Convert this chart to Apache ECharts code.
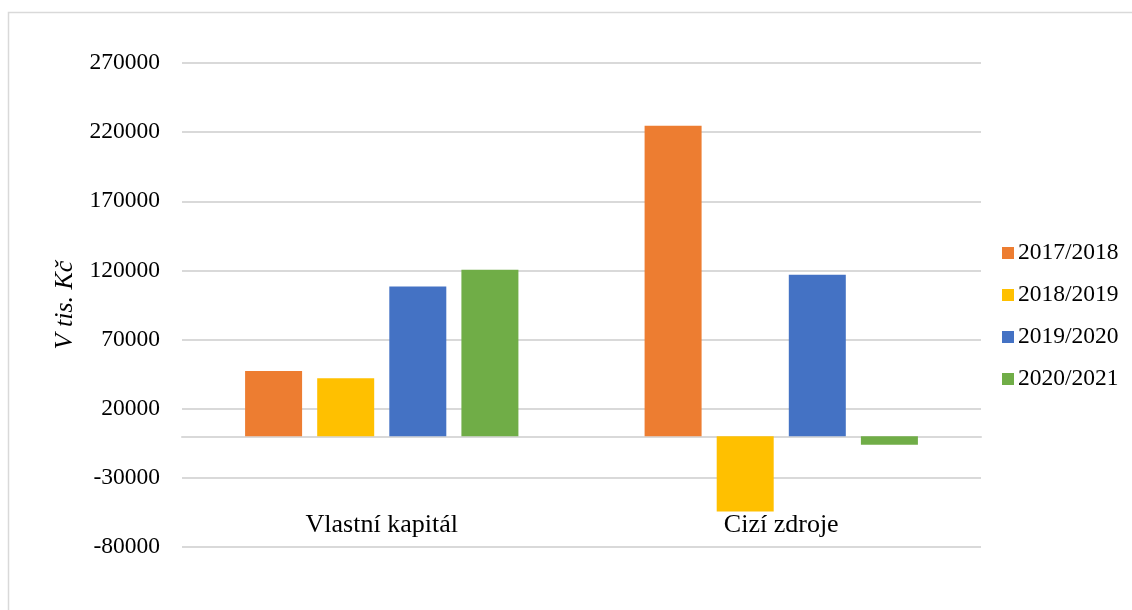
<!DOCTYPE html>
<html>
<head>
<meta charset="utf-8">
<script src="https://cdn.jsdelivr.net/npm/echarts@6/dist/echarts.min.js"></script>
<style>
  html, body { margin: 0; padding: 0; background: #fff; }
  #chart { width: 1132px; height: 610px; }
</style>
</head>
<body>
<div id="chart"></div>
<script>
// Balance-sheet source changes per year (in thousand CZK)
const categories = ['Vlastní kapitál', 'Cizí zdroje'];
const seriesNames = ['2017/2018', '2018/2019', '2019/2020', '2020/2021'];
const values2017 = [47300, 224600];
const values2018 = [42000, -54400];
const values2019 = [108400, 116900];
const values2020 = [120500, -6100];
const seriesColors = ['#ED7D31', '#FFC000', '#4472C4', '#70AD47'];
const yMin = -80000;
const yMax = 270000;
const yStep = 50000;

const seriesValues = [values2017, values2018, values2019, values2020];
const serif = 'Liberation Serif, Times New Roman, serif';

const chart = echarts.init(document.getElementById('chart'), null, { renderer: 'canvas' });

chart.setOption({
  backgroundColor: '#ffffff',
  animation: false,
  graphic: [{
    type: 'rect',
    shape: { x: 8.5, y: 12.5, width: 1300, height: 800 },
    style: { fill: 'none', stroke: '#d9d9d9', lineWidth: 1.5 },
    silent: true
  }],
  grid: {
    left: 182, right: 151, top: 63, bottom: 63,
    containLabel: false,
    outerBoundsMode: 'none'
  },
  legend: {
    orient: 'vertical',
    left: 997,
    top: 236,
    icon: 'rect',
    itemWidth: 12,
    itemHeight: 12,
    itemGap: 18,
    textStyle: { fontFamily: serif, fontSize: 23.5, color: '#000', padding: [0, 0, 0, -1] },
    data: seriesNames
  },
  xAxis: {
    type: 'category',
    data: categories,
    axisLine: { onZero: true, lineStyle: { color: '#d9d9d9', width: 2 } },
    axisTick: { show: false },
    axisLabel: {
      margin: -22,
      verticalAlign: 'middle',
      fontFamily: serif,
      fontSize: 26,
      color: '#000'
    }
  },
  yAxis: {
    type: 'value',
    min: yMin,
    max: yMax,
    interval: yStep,
    name: 'V tis. Kč',
    nameLocation: 'middle',
    nameGap: 97,
    nameRotate: 90,
    nameTextStyle: { fontFamily: serif, fontSize: 26, fontStyle: 'italic', color: '#000' },
    axisLine: { show: false },
    axisTick: { show: false },
    axisLabel: {
      margin: 22,
      fontFamily: serif,
      fontSize: 23.5,
      color: '#000',
      formatter: (v) => String(v)
    },
    splitLine: { lineStyle: { color: '#d9d9d9', width: 2 } }
  },
  series: seriesNames.map((name, i) => ({
    name: name,
    type: 'bar',
    data: seriesValues[i],
    barWidth: 57,
    barGap: '26.5%',
    itemStyle: { color: seriesColors[i] }
  }))
});
</script>
</body>
</html>
